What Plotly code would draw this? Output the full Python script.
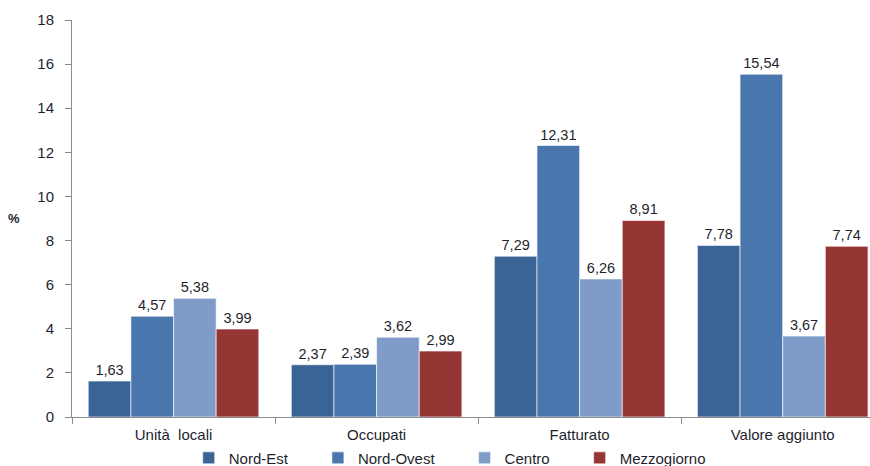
import plotly.graph_objects as go

categories = ["Unità\u00a0\u00a0locali", "Occupati", "Fatturato", "Valore aggiunto"]
series_names = ["Nord-Est", "Nord-Ovest", "Centro", "Mezzogiorno"]
nord_est = [1.63, 2.37, 7.29, 7.78]
nord_ovest = [4.57, 2.39, 12.31, 15.54]
centro = [5.38, 3.62, 6.26, 3.67]
mezzogiorno = [3.99, 2.99, 8.91, 7.74]
y_ticks = [0, 2, 4, 6, 8, 10, 12, 14, 16, 18]

colors = ["#3B6496", "#4A76AE", "#7F9CC8", "#963634"]
values = [nord_est, nord_ovest, centro, mezzogiorno]

font_family = "Liberation Sans, Arial, sans-serif"
text_color = "#1f1f2e"

# trailing spaces widen the horizontal legend entries
pad = "\u00a0" * 6

fig = go.Figure()
for name, vals, col in zip(series_names, values, colors):
    fig.add_trace(go.Bar(
        x=categories,
        y=vals,
        name=name + pad,
        marker=dict(color=col, line=dict(color="rgba(255,255,255,0.6)", width=1)),
        texttemplate="%{y:.2f}",
        textposition="outside",
        textfont=dict(family=font_family, size=14.5, color=text_color),
        cliponaxis=False,
    ))

fig.update_layout(
    width=870,
    height=466,
    margin=dict(l=72, r=0, t=20, b=49, autoexpand=False),
    paper_bgcolor="white",
    plot_bgcolor="white",
    separators=",.",
    barmode="group",
    bargap=0.16,
    bargroupgap=0,
    font=dict(family=font_family, size=15, color=text_color),
    showlegend=True,
    legend=dict(
        orientation="h",
        x=0.489,
        xanchor="center",
        y=-0.062,
        yanchor="top",
        font=dict(family=font_family, size=15, color=text_color),
        itemwidth=30,
        traceorder="normal",
    ),
    xaxis=dict(
        range=[-0.5, 3.43],
        showline=True,
        linecolor="#8c8c8c",
        linewidth=1,
        ticks="outside",
        tickson="boundaries",
        ticklen=6,
        tickcolor="#8c8c8c",
        showgrid=False,
        ticklabelstandoff=4,
        tickfont=dict(family=font_family, size=15, color=text_color),
    ),
    yaxis=dict(
        range=[0, 18],
        tickvals=y_ticks,
        showline=True,
        linecolor="#8c8c8c",
        linewidth=1,
        ticks="outside",
        ticklen=6,
        tickcolor="#8c8c8c",
        showgrid=False,
        zeroline=False,
        ticklabelstandoff=8,
        tickfont=dict(family=font_family, size=15, color=text_color),
    ),
    annotations=[dict(
        text="<b>%</b>",
        xref="paper", yref="paper",
        x=-0.083, y=0.5,
        xanchor="left", yanchor="middle",
        showarrow=False,
        font=dict(family=font_family, size=13, color=text_color),
    )],
)

fig.write_html("out.html")
